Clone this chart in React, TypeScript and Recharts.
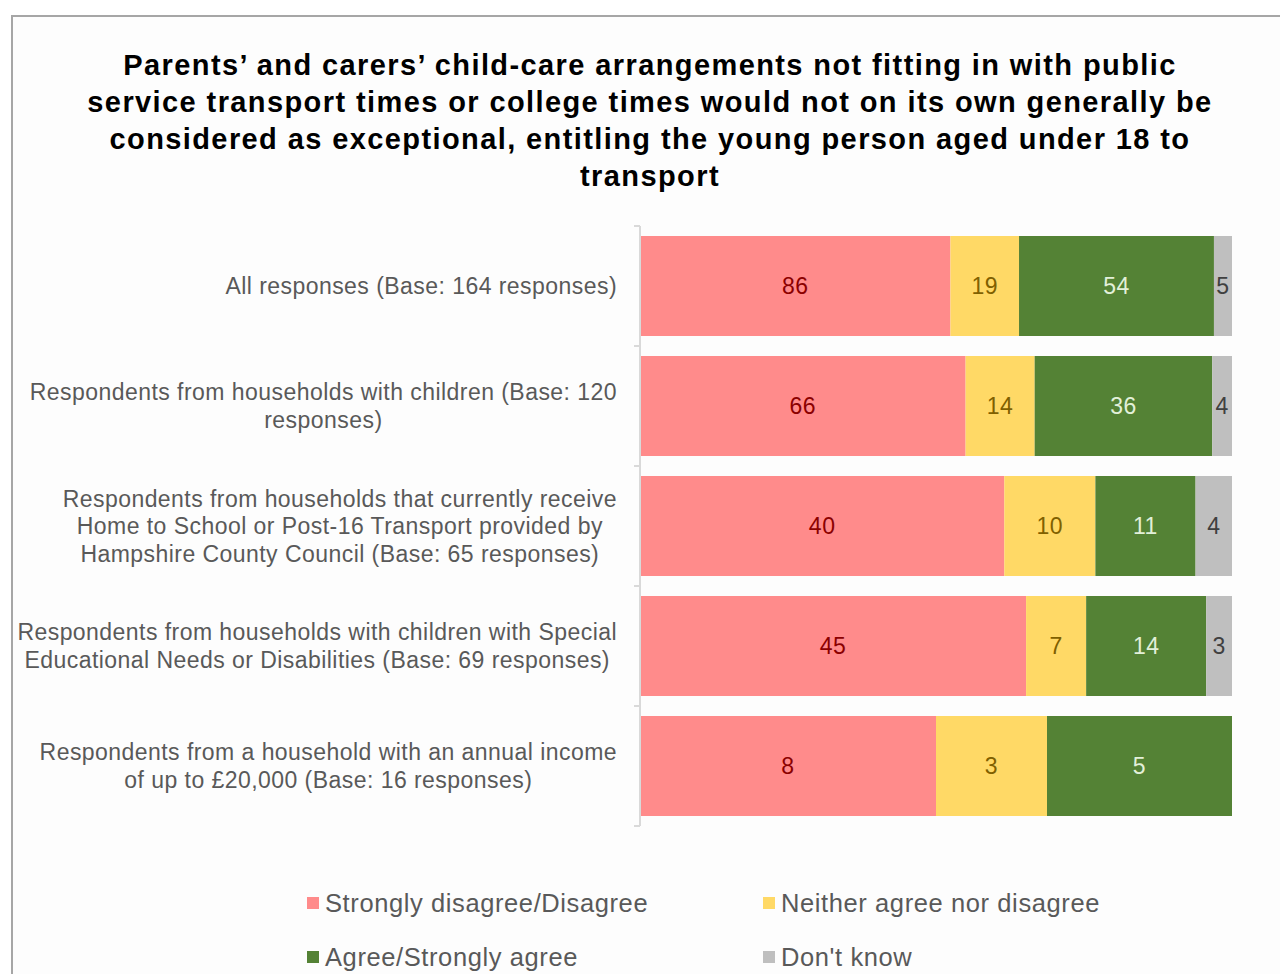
import React from "react";
import { BarChart, Bar, XAxis, YAxis, LabelList } from "recharts";

// category labels, already broken into the lines shown on the chart
const categories = [
  ["All responses (Base: 164 responses)"],
  ["Respondents from households with children (Base: 120", "responses)"],
  [
    "Respondents from households that currently receive",
    "Home to School or Post-16 Transport provided by",
    "Hampshire County Council (Base: 65 responses)",
  ],
  [
    "Respondents from households with children with Special",
    "Educational Needs or Disabilities (Base: 69 responses)",
  ],
  [
    "Respondents from a household with an annual income",
    "of up to £20,000 (Base: 16 responses)",
  ],
];

const disagree = [86, 66, 40, 45, 8];
const neither = [19, 14, 10, 7, 3];
const agree = [54, 36, 11, 14, 5];
const dontKnow = [5, 4, 4, 3, 0];

const titleLines = [
  "Parents’ and carers’ child-care arrangements not fitting in with public",
  "service transport times or college times would not on its own generally be",
  "considered as exceptional, entitling the young person aged under 18 to",
  "transport",
];

const series = [
  { key: "disagree", name: "Strongly disagree/Disagree", color: "#FF8B8B", text: "#8B0000" },
  { key: "neither", name: "Neither agree nor disagree", color: "#FFD966", text: "#7F6000" },
  { key: "agree", name: "Agree/Strongly agree", color: "#548235", text: "#E2F0D9" },
  { key: "dontKnow", name: "Don't know", color: "#BFBFBF", text: "#404040" },
];

const data = categories.map((lines, i) => ({
  label: lines.join("\n"),
  disagree: disagree[i],
  neither: neither[i],
  agree: agree[i],
  dontKnow: dontKnow[i],
}));

const FONT = "'Liberation Sans', Arial, sans-serif";
const TICK_SIZE = 23;
const TICK_LS = 0.45;

// measure text so multi-line labels can be centred inside a right-aligned block
let ctx: CanvasRenderingContext2D | null = null;
const measure = (t: string) => {
  if (!ctx) ctx = document.createElement("canvas").getContext("2d");
  if (!ctx) return t.length * TICK_SIZE * 0.5;
  ctx.font = `${TICK_SIZE}px ${FONT}`;
  return ctx.measureText(t).width + t.length * TICK_LS;
};

const CategoryTick = (props: any) => {
  const { x, y, payload, index } = props;
  const lines = String(payload.value).split("\n");
  const lh = 27.5;
  const half = payload.offset || 60;
  const ax = x + 23; // axis line position (tickSize + tickMargin)
  const start = y - ((lines.length - 1) * lh) / 2;
  const blockW = Math.max(...lines.map(measure));
  const cx = x - blockW / 2;
  return (
    <g>
      <line x1={ax - 6} x2={ax} y1={y - half} y2={y - half} stroke="#D9D9D9" strokeWidth={2} />
      {index === categories.length - 1 && (
        <line x1={ax - 6} x2={ax} y1={y + half} y2={y + half} stroke="#D9D9D9" strokeWidth={2} />
      )}
      {lines.map((t, i) => (
        <text
          key={i}
          x={cx}
          y={start + i * lh}
          textAnchor="middle"
          dominantBaseline="central"
          fill="#595959"
          fontSize={TICK_SIZE}
          letterSpacing={TICK_LS}
          fontFamily={FONT}
        >
          {t}
        </text>
      ))}
    </g>
  );
};

export default function App() {
  return (
    <div
      style={{
        position: "absolute",
        left: 0,
        top: 0,
        width: 1280,
        height: 974,
        overflow: "hidden",
        background: "#fff",
        fontFamily: FONT,
      }}
    >
      <div
        style={{
          position: "absolute",
          left: 11,
          top: 15,
          width: 1320,
          height: 1000,
          border: "2px solid #A6A6A6",
          background: "#FDFDFD",
        }}
      />
      <div
        style={{
          position: "absolute",
          left: 20,
          top: 47,
          width: 1260,
          textAlign: "center",
          fontWeight: "bold",
          fontSize: 29,
          letterSpacing: 1.4,
          lineHeight: "37px",
          color: "#000",
        }}
      >
        {titleLines.map((t, i) => (
          <div key={i}>{t}</div>
        ))}
      </div>

      <BarChart
        width={1280}
        height={974}
        data={data}
        layout="vertical"
        stackOffset="expand"
        barCategoryGap={10}
        margin={{ top: 226, right: 48, bottom: 148, left: 0 }}
        style={{ position: "absolute", left: 0, top: 0 }}
      >
        <XAxis type="number" hide domain={[0, 1]} />
        <YAxis
          type="category"
          dataKey="label"
          width={640}
          axisLine={{ stroke: "#D9D9D9", strokeWidth: 2 }}
          tickLine={false}
          tickSize={6}
          tickMargin={17}
          tick={<CategoryTick />}
          interval={0}
        />
        {series.map((s) => (
          <Bar key={s.key} dataKey={s.key} name={s.name} stackId="a" fill={s.color} isAnimationActive={false}>
            <LabelList
              dataKey={s.key}
              position="center"
              fill={s.text}
              fontSize={23}
              letterSpacing={0.5}
              fontFamily={FONT}
              formatter={(v: any) => (v ? v : "")}
            />
          </Bar>
        ))}
      </BarChart>

      {series.map((s, i) => {
        const left = i % 2 === 0 ? 307 : 763;
        const top = i < 2 ? 903 : 957;
        return (
          <div
            key={s.key}
            style={{
              position: "absolute",
              left,
              top: top - 15,
              height: 30,
              display: "flex",
              alignItems: "center",
              fontSize: 25.5,
              letterSpacing: 0.6,
              color: "#595959",
              whiteSpace: "nowrap",
            }}
          >
            <span style={{ width: 12, height: 12, background: s.color, marginRight: 6, display: "inline-block" }} />
            {s.name}
          </div>
        );
      })}
    </div>
  );
}
